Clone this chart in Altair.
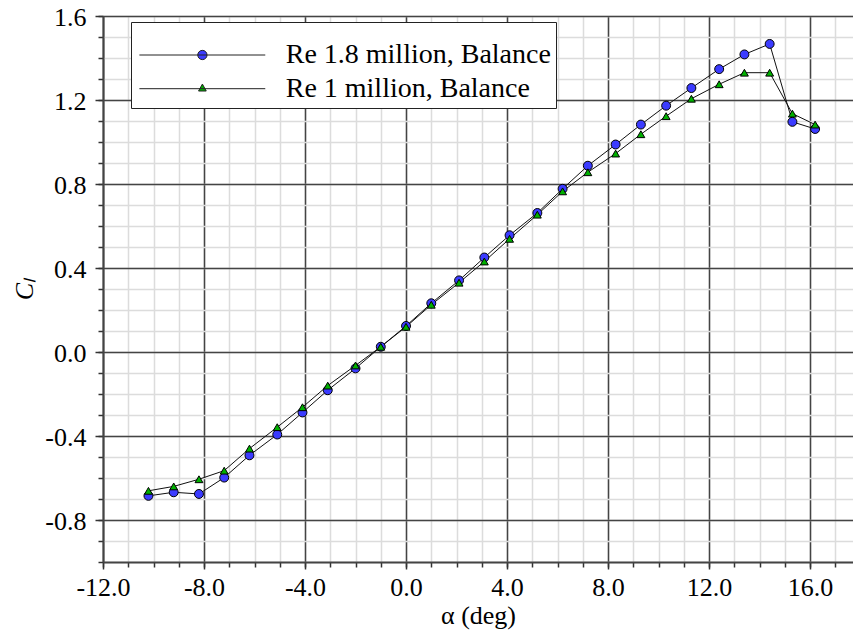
import altair as alt
import pandas as pd

# Angle of attack (deg) and lift coefficient for the two balance runs
alpha = [-10.2, -9.2, -8.2, -7.2, -6.2, -5.1, -4.1, -3.1, -2.0, -1.0, 0.0, 1.0, 2.1,
         3.1, 4.1, 5.2, 6.2, 7.2, 8.3, 9.3, 10.3, 11.3, 12.4, 13.4, 14.4, 15.3, 16.2]
cl_re18 = [-0.685, -0.668, -0.676, -0.598, -0.492, -0.393, -0.288, -0.182, -0.078, 0.025,
           0.124, 0.232, 0.341, 0.450, 0.556, 0.662, 0.777, 0.887, 0.988, 1.083, 1.173,
           1.257, 1.347, 1.417, 1.467, 1.096, 1.062]
cl_re10 = [-0.661, -0.640, -0.606, -0.565, -0.460, -0.358, -0.263, -0.160, -0.064, 0.025,
           0.120, 0.225, 0.330, 0.431, 0.539, 0.654, 0.765, 0.856, 0.945, 1.037, 1.123,
           1.206, 1.275, 1.330, 1.330, 1.135, 1.083]

series_names = ["Re 1.8 million, Balance", "Re 1 million, Balance"]
fill_colors = ["#3b3bff", "#00b000"]
outline_colors = ["#222222", "#222222"]
marker_shapes = ["circle", "triangle-up"]
marker_sizes = [80, 62]

x_major = [-12, -8, -4, 0, 4, 8, 12, 16]
x_minor = list(range(-12, 18))
y_major = [-0.8, -0.4, 0.0, 0.4, 0.8, 1.2, 1.6]
y_minor = [round(-1.0 + 0.1 * i, 1) for i in range(27)]

df = pd.DataFrame({
    "alpha": alpha * 2,
    "cl": cl_re18 + cl_re10,
    "series": [series_names[0]] * len(alpha) + [series_names[1]] * len(alpha),
})

FONT = "Liberation Serif"
HYPHEN_LABEL = "replace(format(datum.value, '.1f'), '\u2212', '-')"
x_scale = alt.Scale(domain=[-12, 17.7], nice=False, zero=False)
y_scale = alt.Scale(domain=[-1.0, 1.6], nice=False, zero=False)

# Light minor grid with short ticks
minor_x_axis = alt.Axis(orient="bottom", values=x_minor, labels=False, domain=False,
                        grid=True, gridColor="#dcdcdc", gridWidth=1.5,
                        tickSize=5, tickColor="#333333", tickWidth=1.5, title="")
minor_y_axis = alt.Axis(orient="left", values=y_minor, labels=False, domain=False,
                        grid=True, gridColor="#dcdcdc", gridWidth=1.5,
                        tickSize=5, tickColor="#333333", tickWidth=1.5, title="")

# Dark major grid with labels and titles
major_x_axis = alt.Axis(orient="bottom", values=x_major, labelExpr=HYPHEN_LABEL,
                        grid=True, gridColor="#444444", gridWidth=1.5,
                        domain=True, domainColor="#444444", domainWidth=2,
                        tickSize=7, tickColor="#333333", tickWidth=1.5,
                        labelFont=FONT, labelFontSize=26, labelColor="black",
                        labelPadding=5, labelFlush=False, labelOverlap=False,
                        title="α (deg)", titleFont=FONT, titleFontSize=26,
                        titleFontWeight="normal", titleColor="black",
                        titleBaseline="alphabetic", titleY=61.5)
major_y_axis = alt.Axis(orient="left", values=y_major, labelExpr=HYPHEN_LABEL,
                        grid=True, gridColor="#444444", gridWidth=1.5,
                        domain=True, domainColor="#444444", domainWidth=2,
                        tickSize=8, tickColor="#333333", tickWidth=1.5,
                        labelFont=FONT, labelFontSize=26, labelColor="black",
                        labelPadding=9, labelOffset=1.5, labelFlush=False,
                        labelOverlap=False,
                        title="Cₗ", titleFont=FONT, titleFontSize=26,
                        titleFontStyle="italic", titleFontWeight="normal",
                        titleColor="black", titleAngle=270, titleAlign="center",
                        titleBaseline="alphabetic", titleX=-71, titleY=273)

# Legend symbols: a line segment with the marker in its middle
circle_path = "M-2.29,0L24.86,0M12.3,0A1,1,0,1,1,10.3,0A1,1,0,1,1,12.3,0Z"
triangle_path = "M-2.29,0L24.86,0M11.3,-1.0L12.13,0.5L10.47,0.5Z"

legend = alt.Legend(
    orient="none", legendX=28, legendY=6,
    title=" ", titleFontSize=10, titlePadding=4,
    padding=5, strokeColor="#222222", fillColor="white",
    labelFont=FONT, labelFontSize=28, labelColor="black", labelLimit=500,
    labelOffset=121.7, rowPadding=5.7, symbolSize=86,
    symbolStrokeWidth=1, symbolOpacity=1,
)

lines = alt.Chart(df).mark_line(color="#111111", strokeWidth=1).encode(
    x=alt.X("alpha:Q", scale=x_scale, axis=minor_x_axis),
    y=alt.Y("cl:Q", scale=y_scale, axis=minor_y_axis),
    detail="series:N",
)

points = alt.Chart(df).mark_point(filled=True, stroke="black", strokeWidth=1, opacity=1).encode(
    x=alt.X("alpha:Q", scale=x_scale, axis=major_x_axis),
    y=alt.Y("cl:Q", scale=y_scale, axis=major_y_axis),
    fill=alt.Fill("series:N", scale=alt.Scale(domain=series_names, range=fill_colors),
                  legend=None),
    shape=alt.Shape("series:N", scale=alt.Scale(domain=series_names, range=marker_shapes),
                    legend=None),
    size=alt.Size("series:N", scale=alt.Scale(domain=series_names, range=marker_sizes),
                  legend=None),
)

# Legend-only layer (no marks drawn): line-with-marker symbols
legend_layer = alt.Chart(df).transform_filter("false").mark_point(
    filled=True, strokeWidth=1, opacity=1
).encode(
    x=alt.X("alpha:Q", scale=x_scale, axis=None),
    y=alt.Y("cl:Q", scale=y_scale, axis=None),
    fill=alt.Fill("series:N", scale=alt.Scale(domain=series_names, range=fill_colors),
                  legend=legend),
    stroke=alt.Stroke("series:N", scale=alt.Scale(domain=series_names, range=outline_colors),
                      legend=legend),
    shape=alt.Shape("series:N", scale=alt.Scale(domain=series_names,
                                                range=[circle_path, triangle_path]),
                    legend=legend),
)

chart = alt.layer(lines, points, legend_layer).resolve_axis(
    x="independent", y="independent"
).resolve_scale(
    fill="independent", shape="independent", size="independent", stroke="independent"
).properties(
    width=750, height=546,
    autosize=alt.AutoSizeParams(type="none"),
    padding={"left": 103, "top": 16, "right": 0, "bottom": 70},
    background="white",
).configure(font=FONT).configure_axis(
    labelFont=FONT, titleFont=FONT
).configure_view(stroke="transparent")

chart.save("out.html", embed_options={"renderer": "svg", "actions": False})
